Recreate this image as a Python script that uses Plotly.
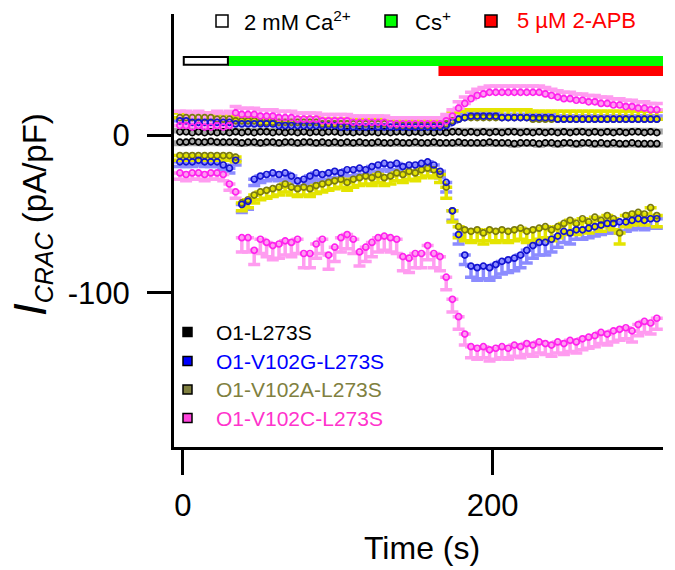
import plotly.graph_objects as go

# ---------------- data ----------------
time_s = [-2, 2, 6, 10, 14, 18, 22, 26, 30, 34, 38, 42, 46, 50, 54, 58, 62, 66, 70, 74,
          78, 82, 86, 90, 94, 98, 102, 106, 110, 114, 118, 122, 126, 130, 134, 138, 142, 146, 150, 154,
          158, 162, 166, 170, 174, 178, 182, 186, 190, 194, 198, 202, 206, 210, 214, 218, 222, 226, 230, 234,
          238, 242, 246, 250, 254, 258, 262, 266, 270, 274, 278, 282, 286, 290, 294, 298, 302, 306]

# O1-L273S
l273s_out = [2, 2, 1.5, 2, 1.5, 2, 1.5, 2, 1.5, 2, 1.5, 2, 1.5, 2, 2, 1.5, 2, 1.5, 2, 1.5,
             2, 1.5, 2, 1.5, 2, 2, 1.5, 2, 1.5, 2, 1.5, 2, 1.5, 2, 1.5, 2, 2, 1.5, 2, 1.5,
             2, 1.5, 2, 1.5, 2, 2, 1.5, 2, 1.5, 2, 1.5, 2, 1.5, 2, 2, 1.5, 2, 1.5, 2, 1.5,
             2, 1.5, 2, 1.5, 2, 2, 1.5, 2, 1.5, 2, 1.5, 2, 1.5, 2, 2, 1.5, 2, 1.5]
l273s_in = [-4.5, -4.5, -4, -4.5, -4.5, -4, -4.5, -4.5, -4.5, -4.5, -5, -4.5, -4.5, -5, -4.5, -4.5, -5, -4.5, -4.5, -5,
            -4.5, -4.5, -5, -4.5, -5, -4.5, -5, -4.5, -5, -4.5, -5, -5, -4.5, -5, -5, -4.5, -5, -5, -4.5, -5,
            -5, -4.5, -5, -5, -5, -4.5, -5, -5, -5, -5, -4.5, -5, -5, -5, -5.5, -5, -5, -5, -5.5, -5,
            -5, -5.5, -5, -5, -5.5, -5, -5, -5.5, -5, -5.5, -5, -5.5, -5.5, -5, -5.5, -5.5, -5.5, -5.5]
l273s_out_err = [1.5, 1.5, 1.5, 1.5, 1.5, 1.5, 1.5, 1.5, 1.5, 1.5, 1.5, 1.5, 1.5, 1.5, 1.5, 1.5, 1.5, 1.5, 1.5, 1.5,
                 1.5, 1.5, 1.5, 1.5, 1.5, 1.5, 1.5, 1.5, 1.5, 1.5, 1.5, 1.5, 1.5, 1.5, 1.5, 1.5, 1.5, 1.5, 1.5, 1.5,
                 1.5, 1.5, 1.5, 1.5, 1.5, 1.5, 1.5, 1.5, 1.5, 1.5, 1.5, 1.5, 1.5, 1.5, 1.5, 1.5, 1.5, 1.5, 1.5, 1.5,
                 1.5, 1.5, 1.5, 1.5, 1.5, 1.5, 1.5, 1.5, 1.5, 1.5, 1.5, 1.5, 1.5, 1.5, 1.5, 1.5, 1.5, 1.5]
l273s_in_err = [1.5, 1.5, 1.5, 1.5, 1.5, 1.5, 1.5, 1.5, 1.5, 1.5, 1.5, 1.5, 1.5, 1.5, 1.5, 1.5, 1.5, 1.5, 1.5, 1.5,
                1.5, 1.5, 1.5, 1.5, 1.5, 1.5, 1.5, 1.5, 1.5, 1.5, 1.5, 1.5, 1.5, 1.5, 1.5, 1.5, 1.5, 1.5, 1.5, 1.5,
                1.5, 1.5, 1.5, 1.5, 1.5, 1.5, 1.5, 1.5, 1.5, 1.5, 1.5, 1.5, 1.5, 1.5, 1.5, 1.5, 1.5, 1.5, 1.5, 1.5,
                1.5, 1.5, 1.5, 1.5, 1.5, 1.5, 1.5, 1.5, 1.5, 1.5, 1.5, 1.5, 1.5, 1.5, 1.5, 1.5, 1.5, 1.5]

# O1-V102G-L273S
v102g_out = [9, 9, 8, 8, 8, 8, 8, 8, 8, 7, 7, 7, 7, 7, 7, 7, 6, 6, 6, 6,
             6, 6, 6, 6, 6, 6, 5, 5, 5, 5, 5, 5, 5, 5, 5, 5, 5, 5, 5, 5,
             5, 5, 5, 6, 8, 10, 11, 12, 12, 12, 12, 12, 11, 11, 11, 11, 11, 11, 11, 11,
             11, 10, 10, 10, 10, 10, 10, 10, 10, 10, 10, 10, 10, 10, 10, 10, 10, 10]
v102g_in = [-17, -17, -17, -16, -17, -17, -17, -19, -21, -16, -44, -42, -28, -26, -25, -24, -25, -24, -26, -29,
            -28, -26, -24, -25, -24, -23, -24, -22, -22, -21, -22, -20, -19, -18, -19, -18, -20, -19, -19, -18,
            -17, -19, -23, -30, -48, -63, -76, -83, -84, -83, -84, -82, -80, -79, -78, -76, -73, -70, -68, -68,
            -66, -64, -61, -62, -60, -60, -59, -58, -57, -56, -56, -55, -55, -54, -53, -54, -53, -53]
v102g_out_err = [2, 2, 2, 2, 2, 2, 2, 2, 2, 2, 2, 2, 2, 2, 2, 2, 2, 2, 2, 2,
                 2, 2, 2, 2, 2, 2, 2, 2, 2, 2, 2, 2, 2, 2, 2, 2, 2, 2, 2, 2,
                 2, 2, 2, 2, 2, 2, 2, 2, 2, 2, 2, 2, 2, 2, 2, 2, 2, 2, 2, 2,
                 2, 2, 2, 2, 2, 2, 2, 2, 2, 2, 2, 2, 2, 2, 2, 2, 2, 2]
v102g_in_err = [3, 3, 3, 3, 3, 3, 3, 3, 3, 3, 5, 5, 4, 4, 4, 4, 4, 4, 4, 4,
                4, 4, 4, 4, 4, 4, 4, 4, 4, 4, 4, 4, 4, 4, 4, 4, 4, 4, 4, 4,
                4, 4, 4, 6, 6, 6, 6, 7, 8, 8, 8, 8, 8, 8, 8, 8, 8, 8, 8, 8,
                8, 7, 7, 7, 6, 6, 6, 6, 6, 6, 6, 6, 6, 6, 6, 6, 6, 6]

# O1-V102A-L273S
v102a_out = [11, 11, 11, 11, 11, 11, 10, 10, 10, 9, 9, 9, 9, 8, 8, 8, 8, 8, 8, 8,
             8, 8, 8, 7, 7, 7, 7, 7, 7, 7, 7, 7, 7, 7, 7, 6, 6, 6, 6, 6,
             6, 6, 6, 7, 9, 10, 11, 11, 11, 11, 11, 11, 11, 11, 11, 11, 11, 10, 10, 10,
             10, 10, 10, 10, 10, 10, 10, 10, 10, 10, 10, 10, 10, 10, 10, 10, 10, 10]
v102a_in = [-13, -13, -13, -13, -13, -13, -13, -13, -13, -14, -43, -41, -38, -36, -35, -34, -33, -31, -33, -34,
            -33, -34, -32, -31, -30, -29, -28, -30, -28, -27, -26, -27, -25, -27, -26, -24, -25, -23, -24, -22,
            -21, -22, -25, -33, -48, -58, -60, -61, -60, -62, -60, -61, -60, -61, -60, -59, -61, -60, -59, -58,
            -60, -58, -56, -54, -56, -53, -55, -52, -54, -51, -53, -62, -51, -50, -49, -50, -46, -51]
v102a_out_err = [3, 3, 3, 3, 3, 3, 3, 3, 3, 3, 3, 3, 3, 3, 3, 3, 3, 3, 3, 3,
                 3, 3, 3, 3, 3, 3, 3, 3, 3, 3, 3, 3, 3, 3, 3, 3, 3, 3, 3, 3,
                 3, 3, 3, 4, 5, 5, 5, 5, 5, 5, 5, 5, 5, 5, 5, 5, 5, 5, 5, 5,
                 5, 5, 5, 5, 5, 5, 5, 5, 5, 5, 5, 5, 5, 5, 5, 5, 5, 5]
v102a_in_err = [3, 3, 3, 3, 3, 3, 3, 3, 3, 3, 5, 5, 5, 5, 5, 5, 5, 5, 5, 5,
                5, 5, 5, 5, 5, 5, 5, 5, 5, 5, 5, 5, 5, 5, 5, 5, 5, 5, 5, 5,
                5, 5, 5, 7, 7, 7, 7, 7, 7, 7, 7, 7, 7, 7, 7, 7, 7, 7, 7, 7,
                7, 7, 7, 7, 7, 7, 7, 7, 7, 7, 7, 7, 7, 7, 7, 7, 7, 7]

# O1-V102C-L273S
v102c_out = [6, 6, 5, 6, 5, 5, 6, 5, 6, 14, 13, 13, 13, 12, 12, 12, 11, 11, 11, 10,
             10, 10, 10, 9, 9, 9, 9, 9, 8, 8, 8, 8, 8, 8, 7, 7, 7, 7, 7, 7,
             7, 7, 7, 9, 12, 17, 20, 23, 25, 26, 27, 27, 27, 27, 27, 27, 27, 27, 27, 26,
             25, 24, 23, 23, 22, 22, 21, 21, 20, 20, 19, 19, 18, 18, 17, 17, 16, 16]
v102c_in = [-24, -25, -24, -24, -25, -24, -24, -25, -31, -36, -65, -65, -73, -66, -68, -70, -69, -67, -68, -66,
            -75, -75, -69, -66, -76, -71, -65, -63, -66, -74, -71, -68, -65, -64, -65, -66, -77, -78, -75, -75,
            -70, -75, -77, -90, -104, -115, -126, -134, -135, -134, -136, -135, -134, -135, -133, -134, -132, -133, -131, -132,
            -133, -131, -132, -130, -131, -129, -128, -127, -125, -126, -124, -123, -122, -124, -120, -118, -119, -116]
v102c_out_err = [9, 9, 9, 9, 9, 9, 9, 9, 9, 4, 4, 4, 4, 4, 4, 4, 4, 4, 4, 4,
                 4, 4, 4, 4, 4, 4, 4, 4, 4, 4, 4, 4, 4, 4, 4, 4, 4, 4, 4, 4,
                 4, 4, 4, 4, 4, 4, 4, 4, 4, 4, 4, 4, 4, 4, 4, 4, 4, 4, 4, 4,
                 4, 4, 4, 4, 4, 4, 4, 4, 4, 4, 4, 4, 4, 4, 4, 4, 4, 4]
v102c_in_err = [4, 4, 4, 4, 4, 4, 4, 4, 4, 4, 9, 9, 9, 9, 9, 9, 9, 9, 9, 9,
                9, 9, 9, 9, 9, 9, 9, 9, 9, 9, 9, 9, 9, 9, 9, 9, 9, 9, 9, 9,
                9, 9, 9, 8, 8, 8, 7, 7, 7, 7, 7, 7, 7, 7, 7, 7, 7, 7, 7, 7,
                7, 7, 7, 7, 7, 7, 7, 7, 7, 7, 7, 7, 7, 7, 7, 7, 7, 7]

series_names = ["O1-L273S", "O1-V102G-L273S", "O1-V102A-L273S", "O1-V102C-L273S"]
marker_colors = ["#000000", "#1414D2", "#7A7A10", "#FF22EE"]
error_colors = ["#A8A8A8", "#8C8CFF", "#E4E400", "#FF9CF0"]
legend_fill = ["#000000", "#0000FF", "#7F7F3F", "#FF44DD"]
legend_text = ["#000000", "#0000FF", "#808040", "#FF33CC"]

outward = [l273s_out, v102g_out, v102a_out, v102c_out]
inward = [l273s_in, v102g_in, v102a_in, v102c_in]
outward_err = [l273s_out_err, v102g_out_err, v102a_out_err, v102c_out_err]
inward_err = [l273s_in_err, v102g_in_err, v102a_in_err, v102c_in_err]

# treatment periods (s)
ca_period = [0.5, 29]
cs_period = [29, 310]
apb_period = [165, 310]

FONT = "Liberation Sans, Arial, sans-serif"

fig = go.Figure()

# error bars first (one-sided, away from zero)
for i in range(4):
    fig.add_trace(go.Scatter(
        x=time_s, y=outward[i], mode="markers", marker=dict(opacity=0, size=2),
        error_y=dict(type="data", symmetric=False, array=outward_err[i],
                     arrayminus=[0] * len(time_s), color=error_colors[i], thickness=3.5, width=6),
        showlegend=False, hoverinfo="skip"))
    fig.add_trace(go.Scatter(
        x=time_s, y=inward[i], mode="markers", marker=dict(opacity=0, size=2),
        error_y=dict(type="data", symmetric=False, array=[0] * len(time_s),
                     arrayminus=inward_err[i], color=error_colors[i], thickness=3.5, width=6),
        showlegend=False, hoverinfo="skip"))

# markers
for i in [0, 2, 1, 3]:
    for ys in (outward[i], inward[i]):
        fig.add_trace(go.Scatter(
            x=time_s, y=ys, mode="markers", name=series_names[i],
            marker=dict(symbol="circle-open", size=6, color=marker_colors[i], line=dict(width=1.7)),
            showlegend=False))

shapes = []
# treatment bars
shapes.append(dict(type="rect", xref="x", yref="y", x0=cs_period[0], x1=cs_period[1], y0=43.7, y1=50,
                   fillcolor="#00FF00", line=dict(width=0), layer="above"))
shapes.append(dict(type="rect", xref="x", yref="y", x0=apb_period[0], x1=apb_period[1], y0=37.3, y1=43.7,
                   fillcolor="#FF0000", line=dict(width=0), layer="above"))
shapes.append(dict(type="rect", xref="x", yref="y", x0=ca_period[0], x1=ca_period[1], y0=44.4, y1=49.4,
                   fillcolor="white", line=dict(width=2, color="black"), layer="above"))

# screen-pixel -> paper conversion (plot area: x 174..663, y 14..447 on screen)
px2x = lambda p: (p - 174) / 489.0
py2y = lambda p: (447 - p) / 433.0
for x0, col in [(216, "white"), (385, "#00FF00"), (485, "#FF0000")]:
    shapes.append(dict(type="rect", xref="paper", yref="paper", x0=px2x(x0), x1=px2x(x0 + 12),
                       y0=py2y(27), y1=py2y(15), fillcolor=col, line=dict(width=1.5, color="black")))

annotations = []
top_labels = [("2 mM Ca<sup>2+</sup>", 242, "black"), ("Cs<sup>+</sup>", 413, "black"),
              ("5 µM 2-APB", 515, "#FF0000")]
for txt, xp, col in top_labels:
    annotations.append(dict(text=txt, xref="paper", yref="paper", x=px2x(xp), y=py2y(21),
                            xanchor="left", yanchor="middle", showarrow=False,
                            font=dict(family=FONT, size=22, color=col)))

# bottom legend
rows_y = [332, 361, 389.5, 418]
for i in range(4):
    shapes.append(dict(type="rect", xref="paper", yref="paper", x0=px2x(183), x1=px2x(192),
                       y0=py2y(rows_y[i] + 4.5), y1=py2y(rows_y[i] - 4.5),
                       fillcolor=legend_fill[i], line=dict(width=1.5, color="black")))
    annotations.append(dict(text=series_names[i], xref="paper", yref="paper", x=px2x(214), y=py2y(rows_y[i]),
                            xanchor="left", yanchor="middle", showarrow=False,
                            font=dict(family=FONT, size=21, color=legend_text[i])))

# axis titles
annotations.append(dict(text="Time (s)", xref="paper", yref="paper", x=px2x(422), y=py2y(548),
                        xanchor="center", yanchor="middle", showarrow=False,
                        font=dict(family=FONT, size=32, color="black")))
annotations.append(dict(
    text="<span style='font-size:46px'><i>I</i></span><sub><span style='font-size:25px'><i>CRAC</i></span></sub>"
         "<span style='font-size:33px'> (pA/pF)</span>",
    xref="paper", yref="paper", x=px2x(31), y=py2y(215), xanchor="center", yanchor="middle",
    textangle=-90, showarrow=False, font=dict(family=FONT, size=33, color="black")))

# the page body has an 8 px margin, so the figure is made 8 px smaller and offset
fig.update_layout(
    width=667, height=562,
    margin=dict(l=166, r=12, t=6, b=123, autoexpand=False),
    paper_bgcolor="white", plot_bgcolor="white",
    showlegend=False,
    shapes=shapes, annotations=annotations,
    xaxis=dict(range=[-5.8, 310], showline=True, linecolor="black", linewidth=3,
               ticks="outside", ticklen=25, tickwidth=3, tickcolor="black",
               tickvals=[0, 200], ticktext=["0", "200"], ticklabelstandoff=4,
               tickfont=dict(family=FONT, size=31, color="black"),
               showgrid=False, zeroline=False, automargin=False),
    yaxis=dict(range=[-197.5, 76.6], showline=True, linecolor="black", linewidth=3,
               ticks="outside", ticklen=24, tickwidth=3, tickcolor="black",
               tickvals=[0, -100], ticktext=["0", "-100"], ticklabelstandoff=11,
               tickfont=dict(family=FONT, size=31, color="black"),
               showgrid=False, zeroline=False, automargin=False),
)

fig.write_html("out.html")
